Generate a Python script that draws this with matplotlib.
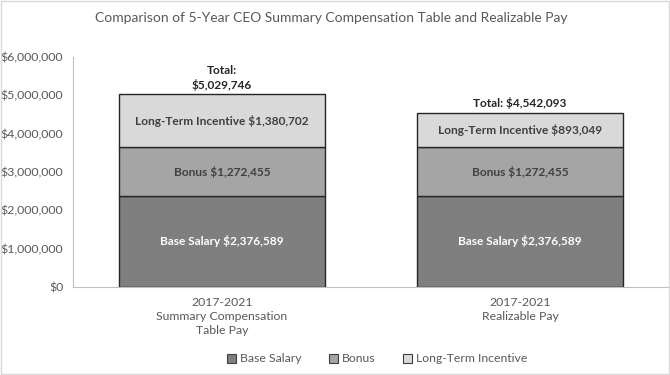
import matplotlib
matplotlib.use("Agg")
import matplotlib.pyplot as plt
from matplotlib.ticker import FuncFormatter
from matplotlib.patches import Rectangle

# --- data ---
categories = ["2017-2021\nSummary Compensation\nTable Pay", "2017-2021\nRealizable Pay"]
series_names = ["Base Salary", "Bonus", "Long-Term Incentive"]
base_salary = [2376589, 2376589]
bonus = [1272455, 1272455]
long_term = [1380702, 893049]
totals = [5029746, 4542093]
total_labels = ["Total:\n$5,029,746", "Total: $4,542,093"]

colors = ["#7f7f7f", "#a5a5a5", "#d9d9d9"]
text_colors = ["white", "#404040", "#404040"]
grey = "#595959"

plt.rcParams["font.family"] = ["Lato", "DejaVu Sans"]

fig = plt.figure(figsize=(6.7, 3.75), dpi=100)
ax = fig.add_axes([73 / 670, 1 - 287 / 375, 596 / 670, 230 / 375])

x = [0, 1]
bottoms = [0, 0]
for vals, name, col, tcol in zip([base_salary, bonus, long_term], series_names, colors, text_colors):
    ax.bar(x, vals, width=0.69, bottom=bottoms, color=col, edgecolor="#262626",
           linewidth=1.0, label=name, zorder=3)
    for xi, v, b in zip(x, vals, bottoms):
        ax.text(xi, b + v / 2, f"{name} ${v:,}", ha="center", va="center",
                fontsize=8.6, fontweight="bold", color=tcol, zorder=4)
    bottoms = [b + v for b, v in zip(bottoms, vals)]

for xi, t, lab in zip(x, totals, total_labels):
    ax.text(xi, t + 90000, lab, ha="center", va="bottom", fontsize=8.6,
            fontweight="bold", color="#262626", linespacing=1.3)

ax.set_xlim(-0.5, 1.5)
ax.set_ylim(0, 6000000)
ax.set_yticks(range(0, 6000001, 1000000))
ax.yaxis.set_major_formatter(FuncFormatter(lambda v, p: f"${v:,.0f}"))
ax.set_xticks(x)
ax.set_xticklabels(categories, fontsize=8.8, color=grey, linespacing=1.35)
ax.tick_params(axis="y", labelsize=8.9, labelcolor=grey, length=0, pad=7)
ax.tick_params(axis="x", length=0, pad=7)

for s in ["top", "right"]:
    ax.spines[s].set_visible(False)
ax.spines["left"].set_color("#bfbfbf")
ax.spines["bottom"].set_color("#bfbfbf")

fig.suptitle("Comparison of 5-Year CEO Summary Compensation Table and Realizable Pay",
             x=0.495, y=1 - 18 / 375, va="center", fontsize=10, color=grey)

leg = ax.legend(loc="center", bbox_to_anchor=(377 / 670, 1 - 359 / 375),
                bbox_transform=fig.transFigure, ncol=3, frameon=False,
                fontsize=8.8, handlelength=0.8, handleheight=0.8,
                handletextpad=0.3, columnspacing=2.2)
for t in leg.get_texts():
    t.set_color(grey)
for h in leg.legend_handles:
    h.set_edgecolor("#404040")
    h.set_linewidth(0.8)

# outer chart border
fig.patches.append(Rectangle((0.001, 0.003), 0.997, 0.994, transform=fig.transFigure,
                             fill=False, edgecolor="#d9d9d9", linewidth=1.0))

fig.savefig("out.png", dpi=100)
